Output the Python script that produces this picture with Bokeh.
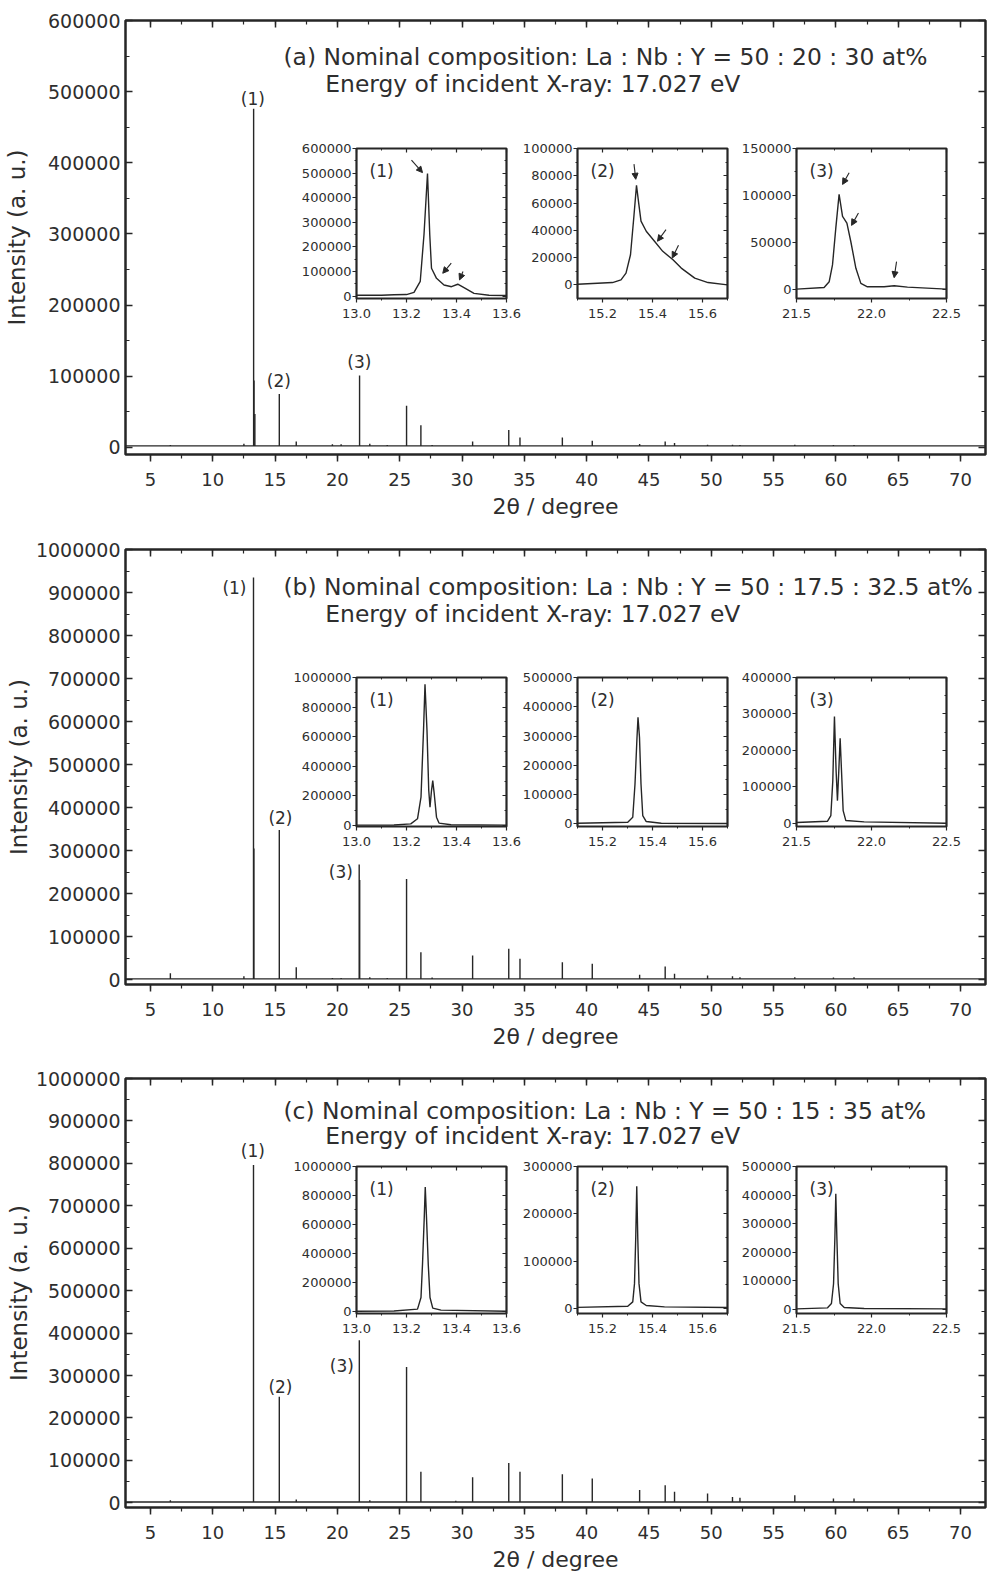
from bokeh.plotting import figure
from bokeh.models import (Range1d, LinearAxis, SingleIntervalTicker, FixedTicker,
                          BasicTickFormatter, NumeralTickFormatter, CustomJSTickFormatter,
                          Label, Arrow, NormalHead)
from bokeh.layouts import column
from bokeh.embed import file_html
from bokeh.resources import INLINE

FONT = "DejaVu Sans"
INK = "#262626"
TXT = "#2e2e2e"

# ---------------- data: main patterns ----------------
two_theta_range = [3.0, 72.0]

peak_pos_a = [6.6, 12.5, 13.28, 13.31, 13.38, 15.34, 16.7, 19.6, 20.3, 21.78, 22.6, 24.0,
              25.55, 26.7, 27.6, 30.85, 33.75, 34.65, 38.05, 40.45, 44.25, 46.3, 47.05,
              49.7, 51.7, 52.3, 56.7, 59.8, 61.45]
peak_int_a = [3500, 5000, 476000, 94000, 47000, 75000, 8400, 4500, 4500, 101000, 5000, 3500,
              58600, 31000, 3500, 8400, 24500, 14000, 14000, 9400, 4800, 8400, 6000,
              3800, 3600, 3200, 3600, 3400, 3400]
background_a = 2000

peak_pos_b = [6.6, 12.5, 13.27, 13.30, 15.34, 16.7, 19.6, 20.3, 21.75, 21.79, 22.6, 24.0,
              25.55, 26.7, 27.6, 30.85, 33.75, 34.65, 38.05, 40.45, 44.25, 46.3, 47.05,
              49.7, 51.7, 52.3, 56.7, 59.8, 61.45]
peak_int_b = [15000, 8000, 935000, 305000, 348000, 29000, 4000, 4000, 268000, 232000, 6000, 4000,
              234000, 64000, 5000, 56500, 72000, 48800, 41000, 37000, 11600, 31000, 14000,
              10000, 8000, 6000, 6000, 5000, 6000]
background_b = 2000

peak_pos_c = [6.6, 13.27, 15.34, 16.7, 21.76, 22.6, 25.55, 26.7, 29.5, 30.85, 33.75, 34.65,
              38.05, 40.45, 44.25, 46.3, 47.05, 49.7, 51.7, 52.3, 56.7, 59.8, 61.45]
peak_int_c = [6000, 796000, 250000, 8000, 383000, 6000, 320000, 73000, 5000, 60000, 94000, 73000,
              67600, 57500, 30000, 41700, 26000, 22000, 14000, 12000, 18000, 10000, 10000]
background_c = 2000

# ---------------- data: insets ----------------
ins_a1_x = [13.00, 13.10, 13.15, 13.20, 13.23, 13.255, 13.27, 13.284, 13.293, 13.30, 13.32,
            13.35, 13.38, 13.405, 13.43, 13.47, 13.53, 13.60]
ins_a1_y = [3000, 3500, 5000, 6000, 15000, 60000, 250000, 498000, 250000, 113000, 72000,
            45000, 38000, 48000, 34000, 11000, 3000, 2000]
ins_a2_x = [15.10, 15.24, 15.274, 15.294, 15.312, 15.325, 15.336, 15.344, 15.354, 15.375,
            15.408, 15.441, 15.482, 15.515, 15.569, 15.622, 15.70]
ins_a2_y = [500, 1700, 3700, 8600, 22100, 49000, 73000, 61000, 46700, 39300,
            32000, 24600, 18400, 12300, 4900, 1700, 0]
ins_a3_x = [21.50, 21.684, 21.718, 21.74, 21.762, 21.784, 21.807, 21.836, 21.862, 21.896,
            21.929, 21.973, 22.084, 22.151, 22.24, 22.50]
ins_a3_y = [0, 1800, 7900, 25800, 65000, 101000, 77700, 70500, 50800, 22200,
            6100, 2500, 2500, 3600, 2100, 0]

ins_b1_x = [13.00, 13.15, 13.217, 13.244, 13.258, 13.268, 13.274, 13.282, 13.289, 13.294,
            13.300, 13.305, 13.311, 13.32, 13.33, 13.378, 13.60]
ins_b1_y = [2000, 3000, 11000, 45000, 191000, 640000, 955000, 640000, 236000, 124000,
            236000, 303000, 213000, 56000, 16000, 4500, 2000]
ins_b2_x = [15.10, 15.301, 15.321, 15.33, 15.338, 15.342, 15.348, 15.354, 15.361, 15.375,
            15.435, 15.70]
ins_b2_y = [2000, 5700, 22700, 136000, 295000, 364000, 295000, 136000, 28400, 8000,
            2000, 1000]
ins_b3_x = [21.50, 21.707, 21.729, 21.742, 21.753, 21.764, 21.773, 21.782, 21.791, 21.80,
            21.811, 21.829, 21.951, 22.50]
ins_b3_y = [1800, 5500, 21000, 117000, 293000, 144000, 62000, 144000, 233000, 144000,
            34700, 7300, 3600, 0]

ins_c1_x = [13.00, 13.15, 13.244, 13.258, 13.264, 13.271, 13.275, 13.28, 13.287, 13.294,
            13.305, 13.338, 13.60]
ins_c1_y = [2000, 3000, 16000, 96600, 326000, 648000, 858000, 648000, 326000, 96600,
            23000, 9000, 2000]
ins_c2_x = [15.10, 15.301, 15.321, 15.328, 15.333, 15.337, 15.341, 15.346, 15.354, 15.375,
            15.448, 15.70]
ins_c2_y = [2500, 4900, 14000, 52600, 150700, 258000, 150700, 52600, 14000, 6300,
            3500, 2100]
ins_c3_x = [21.50, 21.707, 21.733, 21.747, 21.756, 21.762, 21.769, 21.778, 21.791, 21.818,
            21.951, 22.50]
ins_c3_y = [2300, 5800, 20900, 90000, 253000, 405000, 253000, 90000, 20900, 7000,
            3500, 2000]

inset_x_ranges = [(13.0, 13.6), (15.1, 15.7), (21.5, 22.5)]
inset_x_ticks = [[13.0, 13.2, 13.4, 13.6], [15.2, 15.4, 15.6], [21.5, 22.0, 22.5]]
inset_x_minor = [[13.1, 13.3, 13.5], [15.1, 15.3, 15.5, 15.7], [21.75, 22.25]]
inset_peak_names = ["(1)", "(2)", "(3)"]

# (top, major step, minor step, bottom) per inset
inset_y_a = [(600000, 100000, 50000, -10000), (100000, 20000, 10000, -10000), (150000, 50000, 25000, -10000)]
inset_y_b = [(1000000, 200000, 100000, -7000), (500000, 100000, 50000, -9000), (400000, 100000, 50000, -9000)]
inset_y_c = [(1000000, 200000, 100000, -14000), (300000, 100000, 50000, -10500), (500000, 100000, 50000, -14000)]

# arrows (x_start, y_start, x_end, y_end) for panel (a) insets
arrows_a = [
    [(13.22, 553000, 13.264, 502000), (13.379, 133600, 13.345, 92600), (13.426, 99600, 13.412, 65600)],
    [(15.326, 88500, 15.333, 77400), (15.454, 40500, 15.42, 32000), (15.504, 29000, 15.479, 19700)],
    [(21.851, 124200, 21.807, 111700), (21.913, 81300, 21.867, 68000), (22.167, 29400, 22.151, 12200)],
]

titles = [
    ("(a) Nominal composition: La : Nb : Y = 50 : 20 : 30 at%", "Energy of incident X-ray: 17.027 eV"),
    ("(b) Nominal composition: La : Nb : Y = 50 : 17.5 : 32.5 at%", "Energy of incident X-ray: 17.027 eV"),
    ("(c) Nominal composition: La : Nb : Y = 50 : 15 : 35 at%", "Energy of incident X-ray: 17.027 eV"),
]


def empty_fmt():
    return CustomJSTickFormatter(code="return '';")


def mirror_axis(ticker, tick_len, minor_len, width):
    return LinearAxis(ticker=ticker, formatter=empty_fmt(), major_label_text_font_size="0px",
                      major_label_standoff=0, axis_label_standoff=0,
                      major_tick_in=tick_len, major_tick_out=0,
                      minor_tick_in=minor_len, minor_tick_out=0, axis_line_color=None,
                      major_tick_line_color=INK, minor_tick_line_color=INK,
                      major_tick_line_width=width, minor_tick_line_width=width * 0.8)


def build_main(pos, inten, base, yr, height, b_bottom, ylab_standoff, title_pair, title_ys, marks):
    p = figure(width=987, height=height,
               x_range=Range1d(two_theta_range[0], two_theta_range[1]),
               y_range=Range1d(*yr),
               output_backend="svg", toolbar_location=None, frame_align=False,
               min_border_left=125, min_border_right=2, min_border_top=20,
               min_border_bottom=b_bottom,
               background_fill_color="white", border_fill_color="white")
    p.grid.visible = False
    p.outline_line_color = INK
    p.outline_line_width = 2.5

    xt = SingleIntervalTicker(interval=5, num_minor_ticks=2)
    yt = SingleIntervalTicker(interval=100000, num_minor_ticks=2)

    xa = p.xaxis[0]
    xa.ticker = xt
    xa.axis_line_color = None
    xa.major_tick_out = 7
    xa.major_tick_in = 0
    xa.minor_tick_out = 4
    xa.minor_tick_in = 0
    xa.major_tick_line_color = INK
    xa.minor_tick_line_color = INK
    xa.major_tick_line_width = 1.5
    xa.minor_tick_line_width = 1.2
    xa.major_label_text_font = FONT
    xa.major_label_text_font_size = "18px"
    xa.major_label_text_color = TXT
    xa.major_label_standoff = 11
    xa.axis_label = "2θ / degree"
    xa.axis_label_text_font = FONT
    xa.axis_label_text_font_size = "22px"
    xa.axis_label_text_font_style = "normal"
    xa.axis_label_text_color = TXT
    xa.axis_label_standoff = 5

    ya = p.yaxis[0]
    ya.ticker = yt
    ya.formatter = BasicTickFormatter(use_scientific=False)
    ya.axis_line_color = None
    ya.major_tick_in = 7
    ya.major_tick_out = 0
    ya.minor_tick_in = 4
    ya.minor_tick_out = 0
    ya.major_tick_line_color = INK
    ya.minor_tick_line_color = INK
    ya.major_tick_line_width = 1.5
    ya.minor_tick_line_width = 1.2
    ya.major_label_text_font = FONT
    ya.major_label_text_font_size = "19px"
    ya.major_label_text_color = TXT
    ya.major_label_standoff = 5
    ya.axis_label = "Intensity (a. u.)"
    ya.axis_label_text_font = FONT
    ya.axis_label_text_font_size = "23px"
    ya.axis_label_text_font_style = "normal"
    ya.axis_label_text_color = TXT
    ya.axis_label_standoff = ylab_standoff

    p.add_layout(mirror_axis(xt, 7, 4, 1.5), "above")
    p.add_layout(mirror_axis(yt, 7, 4, 1.5), "right")

    p.line(x=two_theta_range, y=[base, base], line_color=INK, line_width=1.3)
    p.segment(x0=pos, y0=[base] * len(pos), x1=pos, y1=inten, line_color=INK, line_width=1.4)

    p.add_layout(Label(x=15.67, y=title_ys[0], text=title_pair[0], text_font=FONT,
                       text_font_size="23.4px", text_color=TXT, text_align="left",
                       text_baseline="alphabetic"))
    p.add_layout(Label(x=19.03, y=title_ys[1], text=title_pair[1], text_font=FONT,
                       text_font_size="23.4px", text_color=TXT, text_align="left",
                       text_baseline="alphabetic"))
    for (mx, my), name in zip(marks, inset_peak_names):
        p.add_layout(Label(x=mx, y=my, text=name, text_font=FONT, text_font_size="17px",
                           text_color=TXT, text_align="center", text_baseline="middle"))
    return p


def build_inset(idx, xs, ys, yspec, frame_left, frame_top, frame_h, arrows=None):
    x0, x1 = inset_x_ranges[idx]
    ytop, ystep, yminor, ybot = yspec
    FL, FR, FT, FB = 70, 18, 10, 28
    p = figure(width=FL + 150 + FR, height=FT + frame_h + FB,
               x_range=Range1d(x0, x1), y_range=Range1d(ybot, ytop),
               output_backend="svg", toolbar_location=None, frame_align=False,
               min_border_left=FL, min_border_right=FR, min_border_top=FT, min_border_bottom=FB,
               background_fill_color="white", border_fill_alpha=0,
               styles={"position": "absolute", "left": f"{frame_left - FL}px",
                       "top": f"{frame_top - FT}px", "z-index": "10"})
    p.grid.visible = False
    p.outline_line_color = INK
    p.outline_line_width = 2.2

    yt_major = list(range(0, ytop + 1, ystep))
    yt_minor = [v for v in range(0, ytop + 1, yminor) if v not in yt_major]
    xt = FixedTicker(ticks=inset_x_ticks[idx], minor_ticks=inset_x_minor[idx])
    yt = FixedTicker(ticks=yt_major, minor_ticks=yt_minor)

    xa = p.xaxis[0]
    xa.ticker = xt
    xa.formatter = NumeralTickFormatter(format="0.0")
    ya = p.yaxis[0]
    ya.ticker = yt
    ya.formatter = BasicTickFormatter(use_scientific=False)
    for ax in (xa, ya):
        ax.axis_line_color = None
        ax.major_tick_out = 4
        ax.major_tick_in = 0
        ax.minor_tick_out = 2
        ax.minor_tick_in = 0
        ax.major_tick_line_color = INK
        ax.minor_tick_line_color = INK
        ax.major_tick_line_width = 1.2
        ax.minor_tick_line_width = 1
        ax.major_label_text_font = FONT
        ax.major_label_text_font_size = "13px"
        ax.major_label_text_color = TXT
    xa.major_label_standoff = 6
    ya.major_label_standoff = 1

    p.add_layout(mirror_axis(xt, 4, 2, 1.2), "above")
    p.add_layout(mirror_axis(yt, 4, 2, 1.2), "right")

    p.line(x=xs, y=ys, line_color=INK, line_width=1.4)

    lx = x0 + 13.0 / 150.0 * (x1 - x0)
    ly = ytop - 22.0 / frame_h * (ytop - ybot)
    p.add_layout(Label(x=lx, y=ly, text=inset_peak_names[idx], text_font=FONT,
                       text_font_size="17px", text_color=TXT, text_align="left",
                       text_baseline="middle"))
    if arrows:
        for (xs0, ys0, xe, ye) in arrows:
            p.add_layout(Arrow(end=NormalHead(size=6, fill_color=INK, line_color=INK, line_width=1),
                               x_start=xs0, y_start=ys0, x_end=xe, y_end=ye,
                               line_color=INK, line_width=1.1))
    return p


# ---------------- main panels ----------------
pa = build_main(peak_pos_a, peak_int_a, background_a, (-10000, 600000), 529, 75, 15,
                titles[0], (548000, 510500),
                [(13.22, 490000), (15.30, 93800), (21.76, 120500)])
pb = build_main(peak_pos_b, peak_int_b, background_b, (-11000, 1000000), 529, 74, 1,
                titles[1], (911700, 849600),
                [(11.74, 910500), (15.43, 376000), (20.28, 250500)])
pc = build_main(peak_pos_c, peak_int_c, background_c, (-11000, 1000000), 519, 70, 1,
                titles[2], (924500, 865600),
                [(13.22, 830000), (15.43, 273800), (20.36, 322800)])

inset_lefts = [356, 577, 796]
insets = []
series_a = [(ins_a1_x, ins_a1_y), (ins_a2_x, ins_a2_y), (ins_a3_x, ins_a3_y)]
series_b = [(ins_b1_x, ins_b1_y), (ins_b2_x, ins_b2_y), (ins_b3_x, ins_b3_y)]
series_c = [(ins_c1_x, ins_c1_y), (ins_c2_x, ins_c2_y), (ins_c3_x, ins_c3_y)]
for i in range(3):
    insets.append(build_inset(i, series_a[i][0], series_a[i][1], inset_y_a[i],
                              inset_lefts[i], 148, 150, arrows_a[i]))
for i in range(3):
    insets.append(build_inset(i, series_b[i][0], series_b[i][1], inset_y_b[i],
                              inset_lefts[i], 677, 149))
for i in range(3):
    insets.append(build_inset(i, series_c[i][0], series_c[i][1], inset_y_c[i],
                              inset_lefts[i], 1166, 147))

root = column(pa, pb, pc, *insets, spacing=0, styles={"position": "relative"})

open("out.html", "w").write(file_html(root, INLINE))
